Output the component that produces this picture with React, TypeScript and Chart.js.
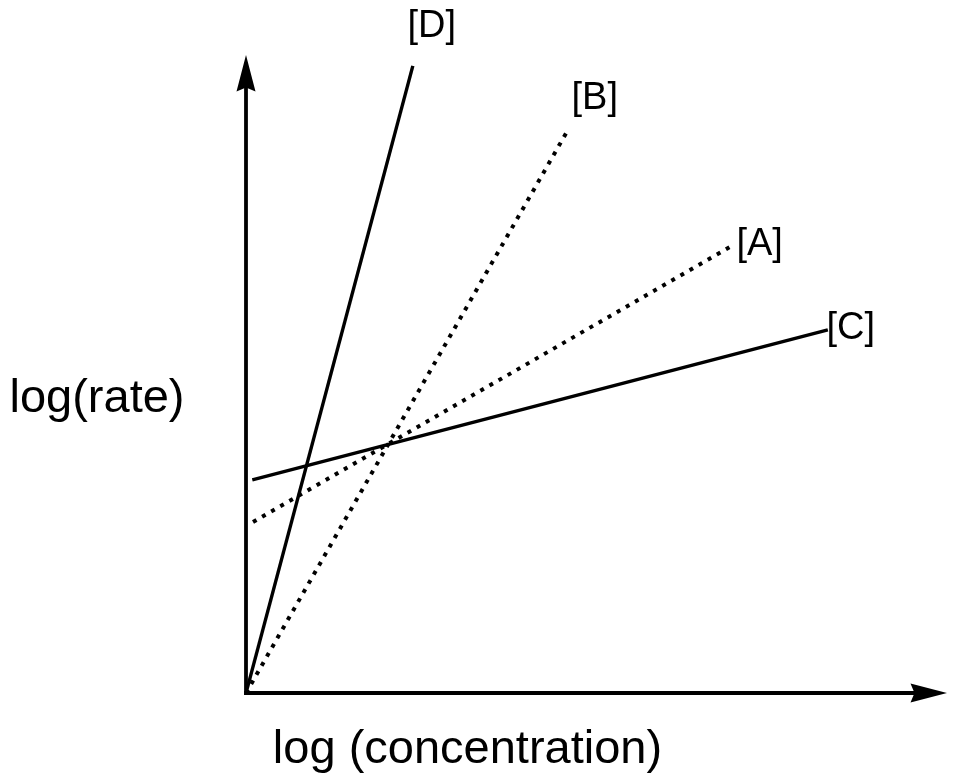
import React, { useEffect, useRef } from "react";
import { Chart, registerables } from "chart.js";

Chart.register(...registerables);

// Schematic log(rate) vs log(concentration) lines, in arbitrary axis units (0..10)
const seriesNames = ["[D]", "[B]", "[A]", "[C]"];
const lineD = [{ x: 0, y: 0 }, { x: 2.38, y: 9.83 }];
const lineB = [{ x: 0, y: 0 }, { x: 4.59, y: 8.82 }];
const lineA = [{ x: 0.1, y: 2.68 }, { x: 6.9, y: 6.99 }];
const lineC = [{ x: 0.09, y: 3.34 }, { x: 8.3, y: 5.69 }];
const xTitle = "log (concentration)";
const yTitle = "log(rate)";
const axisMin = 0;
const axisMax = 10;

const FONT = "'Liberation Sans', Arial, sans-serif";

// pixel offsets of each series label from the line's end
const labelOffsets = [
  { dx: 19, dy: -29 },
  { dx: 27, dy: -21 },
  { dx: 30, dy: 8 },
  { dx: 23, dy: 9 },
];

const arrowPlugin = {
  id: "schemaAxes",
  afterDatasetsDraw(chart: any) {
    const { ctx, scales } = chart;
    const xs = scales.x;
    const ys = scales.y;
    const x0 = xs.getPixelForValue(axisMin);
    const x1 = xs.getPixelForValue(axisMax);
    const y0 = ys.getPixelForValue(axisMin);
    const y1 = ys.getPixelForValue(axisMax);
    ctx.save();
    ctx.strokeStyle = "#000";
    ctx.fillStyle = "#000";
    ctx.lineWidth = 3.8;
    ctx.lineCap = "butt";
    // y axis
    ctx.beginPath();
    ctx.moveTo(x0, y0 + 1.9);
    ctx.lineTo(x0, y1 + 30);
    ctx.stroke();
    // x axis
    ctx.beginPath();
    ctx.moveTo(x0 - 1.9, y0);
    ctx.lineTo(x1 - 30, y0);
    ctx.stroke();
    // y arrowhead
    ctx.beginPath();
    ctx.moveTo(x0, y1);
    ctx.lineTo(x0 + 9.5, y1 + 36.5);
    ctx.lineTo(x0, y1 + 32.5);
    ctx.lineTo(x0 - 9.5, y1 + 36.5);
    ctx.closePath();
    ctx.fill();
    // x arrowhead
    ctx.beginPath();
    ctx.moveTo(x1, y0);
    ctx.lineTo(x1 - 36.5, y0 - 9.5);
    ctx.lineTo(x1 - 32.5, y0);
    ctx.lineTo(x1 - 36.5, y0 + 9.5);
    ctx.closePath();
    ctx.fill();

    // axis titles
    const area = chart.chartArea;
    ctx.font = `47px ${FONT}`;
    ctx.textAlign = "center";
    ctx.textBaseline = "alphabetic";
    ctx.fillText(yTitle, area.left - 149, (area.top + area.bottom) / 2 + 38);
    ctx.fillText(xTitle, area.left + 221.5, area.bottom + 70);

    // series labels at the line ends
    ctx.font = `38px ${FONT}`;
    chart.data.datasets.forEach((ds: any, i: number) => {
      const meta = chart.getDatasetMeta(i);
      const pts = meta.data;
      const last = pts[pts.length - 1];
      const off = labelOffsets[i];
      ctx.fillText(ds.label, last.x + off.dx, last.y + off.dy);
    });
    ctx.restore();
  },
};

export default function App() {
  const ref = useRef<HTMLCanvasElement | null>(null);
  useEffect(() => {
    if (!ref.current) return;
    const solid = { borderColor: "#000", borderWidth: 3.4, borderDash: [] as number[] };
    const dotted = {
      borderColor: "#000",
      borderWidth: 4,
      borderDash: [4, 6.5],
      borderCapStyle: "butt" as const,
    };
    const chart = new Chart(ref.current, {
      type: "line",
      data: {
        datasets: [
          { label: seriesNames[0], data: lineD, ...solid },
          { label: seriesNames[1], data: lineB, ...dotted },
          { label: seriesNames[2], data: lineA, ...dotted },
          { label: seriesNames[3], data: lineC, ...solid },
        ],
      },
      options: {
        responsive: false,
        animation: false,
        layout: { padding: { left: 246, right: 27, top: 55, bottom: 88 } },
        elements: { point: { radius: 0 }, line: { tension: 0 } },
        plugins: { legend: { display: false }, tooltip: { enabled: false } },
        scales: {
          x: { type: "linear", min: axisMin, max: axisMax, display: false },
          y: { type: "linear", min: axisMin, max: axisMax, display: false },
        },
      },
      plugins: [arrowPlugin],
    });
    return () => chart.destroy();
  }, []);
  return (
    <div style={{ position: "absolute", left: 0, top: 0, width: 974, height: 781, background: "#fff" }}>
      <canvas ref={ref} width={974} height={781} style={{ display: "block" }} />
    </div>
  );
}
